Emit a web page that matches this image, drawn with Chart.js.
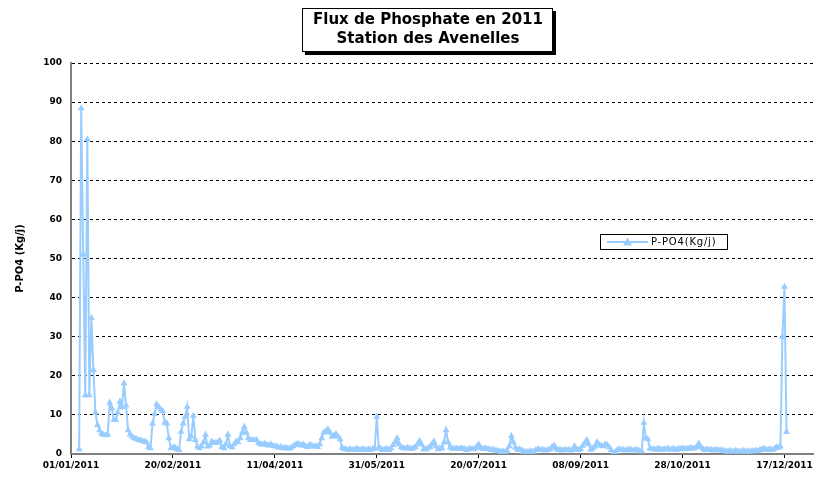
<!DOCTYPE html>
<html>
<head>
<meta charset="utf-8">
<script src="https://cdn.jsdelivr.net/npm/chart.js@4.4.1/dist/chart.umd.min.js"></script>
<style>
  body { margin: 0; background: #fff; }
  #conteneur { width: 818px; height: 478px; }
</style>
</head>
<body>
<div id="conteneur"><canvas id="myChart"></canvas></div>
<script>
// flux journalier P-PO4 (Kg/j), a partir du jour 4 de l'annee
let premierJour = 4;
let valeurs = [
  1.2, 88.4, 51, 15, 80.5, 15, 34.8, 21.5, 10.6, 7.4,
  6.1, 5.2, 4.9, 4.8, 5.0, 13.1, 11.7, 8.7, 8.7, 10.6,
  13.4, 12, 18.1, 12.5, 6.1, 5.0, 4.5, 4.0, 3.9, 3.6,
  3.5, 3.3, 3.2, 3.0, 1.7, 1.5, 7.8, 10.2, 12.7, 12.0,
  11.4, 11.0, 8.0, 7.8, 4.0, 1.5, 1.6, 1.7, 1.2, 1.0,
  5.7, 7.8, 9.5, 12.1, 3.8, 4.5, 9.8, 3.6, 1.9, 1.5,
  2.0, 3.0, 4.9, 1.9, 2.2, 3.2, 2.8, 2.8, 3.0, 3.4,
  1.8, 1.5, 2.5, 4.9, 2.0, 1.7, 2.5, 3.2, 3.0, 4.0,
  5.5, 7.0, 5.5, 4.0, 3.6, 3.6, 3.5, 3.6, 2.8, 2.5,
  2.4, 2.6, 2.3, 2.2, 2.5, 2.1, 2.0, 1.9, 1.6, 1.8,
  1.5, 1.6, 1.5, 1.4, 1.6, 2.0, 2.3, 2.6, 2.5, 2.2,
  2.4, 2.0, 1.8, 2.3, 2.2, 1.9, 2.0, 1.8, 2.5, 4.0,
  5.5, 5.8, 6.3, 5.5, 4.4, 4.7, 5.1, 4.5, 3.8, 1.6,
  1.3, 1.2, 1.0, 1.3, 1.1, 1.0, 1.4, 1.2, 1.0, 1.3,
  1.1, 1.0, 1.2, 1.0, 1.3, 1.4, 9.5, 1.7, 1.3, 1.0,
  1.2, 1.3, 1.0, 1.5, 2.3, 3.0, 4.0, 2.5, 1.7, 1.5,
  1.4, 1.6, 1.5, 1.3, 1.5, 1.8, 2.5, 3.3, 2.5, 1.2,
  1.2, 1.5, 1.8, 2.5, 3.2, 2.0, 1.2, 1.5, 1.4, 3.0,
  6.1, 3.0, 1.7, 1.4, 1.3, 1.5, 1.3, 1.4, 1.5, 1.3,
  1.0, 1.3, 1.4, 1.2, 1.3, 1.8, 2.5, 1.6, 1.3, 1.4,
  1.3, 1.2, 1.1, 1.1, 0.9, 0.8, 0.7, 0.6, 0.7, 0.6,
  0.8, 2.0, 4.6, 3.0, 1.6, 1.0, 1.2, 1.0, 0.6, 0.6,
  0.5, 0.7, 0.6, 0.6, 1.0, 1.3, 1.0, 1.1, 1.0, 0.9,
  1.0, 1.2, 1.8, 2.2, 1.4, 1.0, 1.1, 0.9, 1.0, 1.0,
  1.1, 0.9, 1.0, 2.0, 1.2, 1.0, 1.3, 2.1, 2.8, 3.6,
  2.5, 1.1, 1.5, 1.9, 3.0, 2.5, 2.2, 2.0, 2.5, 2.3,
  1.7, 1.0, 0.1, 0.5, 1.0, 1.2, 1.0, 1.1, 0.9, 1.0,
  1.2, 1.0, 0.9, 1.1, 1.0, 0.7, 0.7, 8.0, 4.0, 3.8,
  1.4, 1.2, 1.3, 1.1, 1.4, 1.2, 1.0, 1.3, 1.2, 1.4,
  1.1, 1.3, 1.2, 1.0, 1.4, 1.3, 1.5, 1.2, 1.4, 1.3,
  1.6, 1.4, 1.5, 1.8, 2.7, 1.8, 1.3, 1.0, 1.2, 1.0,
  1.1, 0.9, 1.0, 1.1, 0.9, 1.0, 0.8, 0.7, 0.6, 0.8,
  0.7, 0.6, 0.8, 0.7, 0.6, 0.7, 0.8, 0.6, 0.7, 0.6,
  0.8, 0.7, 0.8, 0.7, 1.0, 1.2, 1.4, 1.0, 1.1, 1.2,
  1.0, 1.3, 1.7, 1.6, 1.9, 30, 42.8, 5.6
];
let jours = valeurs.map((v, i) => premierJour + i);
let etiquettesX = ['01/01/2011', '20/02/2011', '11/04/2011', '31/05/2011',
                   '20/07/2011', '08/09/2011', '28/10/2011', '17/12/2011'];
let pasX = 50;
let titre = ['Flux de Phosphate en 2011', 'Station des Avenelles'];
let nomSerie = 'P-PO4(Kg/j)';
let titreY = 'P-PO4 (Kg/j)';

let bleu = '#99CCFF';
let points = jours.map((j, i) => ({x: j, y: valeurs[i]}));

// cadre du titre et legende dessines a la main
let decor = {
  id: 'decor',
  afterDraw(chart) {
    let ctx = chart.ctx;
    ctx.save();
    // titre
    ctx.fillStyle = '#000';
    ctx.fillRect(305, 11, 251, 44);
    ctx.fillStyle = '#fff';
    ctx.fillRect(302, 8, 251, 44);
    ctx.strokeStyle = '#000';
    ctx.lineWidth = 1;
    ctx.strokeRect(302.5, 8.5, 250, 43);
    ctx.fillStyle = '#000';
    ctx.font = 'bold 15px "DejaVu Sans"';
    ctx.textAlign = 'center';
    ctx.textBaseline = 'middle';
    ctx.fillText(titre[0], 428, 20);
    ctx.fillText(titre[1], 428, 39);
    // legende
    ctx.fillStyle = '#fff';
    ctx.fillRect(600, 234, 127, 15);
    ctx.strokeStyle = '#000';
    ctx.strokeRect(600.5, 234.5, 127, 15);
    ctx.strokeStyle = bleu;
    ctx.lineWidth = 1.8;
    ctx.beginPath();
    ctx.moveTo(607, 242);
    ctx.lineTo(648, 242);
    ctx.stroke();
    ctx.fillStyle = bleu;
    ctx.beginPath();
    ctx.moveTo(627.5, 237.5);
    ctx.lineTo(632, 245.5);
    ctx.lineTo(623, 245.5);
    ctx.closePath();
    ctx.fill();
    ctx.fillStyle = '#000';
    ctx.font = '10px "DejaVu Sans"';
    ctx.letterSpacing = '0.8px';
    ctx.textAlign = 'left';
    ctx.fillText(nomSerie, 651, 242.5);
    ctx.restore();
  }
};

let ctx = document.getElementById('myChart').getContext('2d');
Chart.defaults.font.family = '"DejaVu Sans"';
Chart.defaults.color = '#000';
let chart = new Chart(ctx, {
  type: 'line',
  data: {
    datasets: [{
      label: nomSerie,
      data: points,
      borderColor: bleu,
      backgroundColor: bleu,
      borderWidth: 2,
      pointStyle: 'triangle',
      pointRadius: 4,
      pointBorderWidth: 0,
      pointBackgroundColor: bleu,
      tension: 0
    }]
  },
  options: {
    responsive: true,
    maintainAspectRatio: false,
    animation: false,
    layout: { padding: { left: 14, right: 5, top: 63, bottom: 0 } },
    plugins: {
      legend: { display: false },
      title: { display: false },
      tooltip: { enabled: false }
    },
    scales: {
      x: {
        type: 'linear',
        min: 0,
        max: 364,
        afterFit(scale) { scale.height = 24; },
        ticks: {
          stepSize: pasX,
          includeBounds: false,
          autoSkip: false,
          maxRotation: 0,
          padding: 2,
          font: { size: 9, weight: 'bold' },
          callback: v => etiquettesX[v / pasX] || ''
        },
        grid: { drawOnChartArea: false, drawTicks: true, tickLength: 4, color: '#000' },
        border: { color: '#808080', width: 2 }
      },
      y: {
        min: 0,
        max: 100,
        afterFit(scale) { scale.width = 57; },
        ticks: { stepSize: 10, padding: 9, font: { size: 9, weight: 'bold' } },
        grid: {
          drawTicks: false,
          color: c => c.tick && c.tick.value === 0 ? 'rgba(0,0,0,0)' : '#000',
          lineWidth: 1
        },
        border: { color: '#808080', width: 2, dash: [3, 3] },
        title: {
          display: true,
          text: titreY,
          font: { size: 10, weight: 'bold' },
          padding: { top: 0, bottom: 4 }
        }
      }
    }
  },
  plugins: [decor]
});
</script>
</body>
</html>
